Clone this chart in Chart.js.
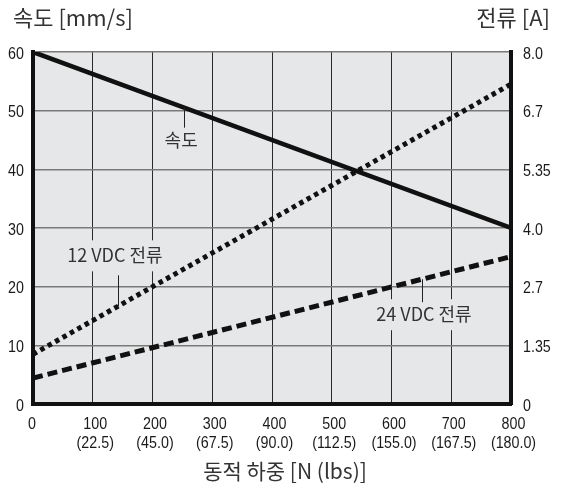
<!DOCTYPE html>
<html>
<head>
<meta charset="utf-8">
<script src="https://cdn.jsdelivr.net/npm/chart.js@4"></script>
<style>
  html, body { margin: 0; padding: 0; background: #fff; }
  #wrap { width: 564px; height: 490px; }
</style>
</head>
<body>
<div id="wrap"><canvas id="chart" width="564" height="490"></canvas></div>
<script>
// data
const loadTicksN = [0, 100, 200, 300, 400, 500, 600, 700, 800]
const loadTicksLbs = ['', '(22.5)', '(45.0)', '(67.5)', '(90.0)', '(112.5)', '(155.0)', '(167.5)', '(180.0)']
const speedTicks = [0, 10, 20, 30, 40, 50, 60]
const currentTickLabels = ['0', '1.35', '2.7', '4.0', '5.35', '6.7', '8.0']

const speedLoad = [0, 800]
const speedValues = [60, 30]          // mm/s
const cur12Load = [0, 800]
const cur12Values = [1.13, 7.27]      // A
const cur24Load = [0, 800]
const cur24Values = [0.59, 3.35]      // A

const plotBg = '#e6e7e8'
const tickFont = '17px "Liberation Sans", Arial, sans-serif'
const tickSquash = 0.84
const krFont = '"Noto Sans CJK KR", sans-serif'

function pts(xs, ys) {
    return xs.map((x, i) => ({ x: x, y: ys[i] }))
}

// label notes: which dataset, where on it, offset of the text
const notes = [
    { text: '속도', ds: 0, load: 253, dx: -3, dy: 32 },
    { text: '12 VDC 전류', ds: 1, load: 142, dx: -3, dy: -51 },
    { text: '24 VDC 전류', ds: 2, load: 651, dx: 2, dy: 35 }
]

function valueAt(ds, load) {
    const d = ds.data
    for (let i = 0; i < d.length - 1; i++) {
        if (load >= d[i].x && load <= d[i + 1].x) {
            const t = (load - d[i].x) / (d[i + 1].x - d[i].x)
            return d[i].y + t * (d[i + 1].y - d[i].y)
        }
    }
    return d[d.length - 1].y
}

function noteGeom(chart, n) {
    const ds = chart.data.datasets[n.ds]
    const ys = chart.scales[ds.yAxisID]
    const px = chart.scales.x.getPixelForValue(n.load)
    const py = ys.getPixelForValue(valueAt(ds, n.load))
    const ctx = chart.ctx
    ctx.font = '18px ' + krFont
    const w = ctx.measureText(n.text).width
    return { px, py, tx: px + n.dx, ty: py + n.dy, w }
}

// condensed tick text
function squashText(ctx, text, x, y, align) {
    ctx.save()
    ctx.translate(x, y)
    ctx.scale(tickSquash, 1)
    ctx.textAlign = align
    ctx.fillText(text, 0, 0)
    ctx.restore()
}

const plotPlugin = {
    id: 'plotPlugin',
    beforeDraw(chart) {
        const { ctx, chartArea: a } = chart
        ctx.save()
        ctx.fillStyle = plotBg
        ctx.fillRect(a.left, a.top, a.right - a.left, a.bottom - a.top)
        ctx.restore()
    },
    beforeDatasetsDraw(chart) {
        const ctx = chart.ctx
        ctx.save()
        ctx.fillStyle = plotBg
        notes.forEach(n => {
            const g = noteGeom(chart, n)
            ctx.fillRect(g.tx - g.w / 2 - 5, g.ty - 15, g.w + 10, 31)
        })
        ctx.restore()
    },
    afterDatasetsDraw(chart) {
        const ctx = chart.ctx
        const { x, y, y1 } = chart.scales
        ctx.save()
        notes.forEach(n => {
            const g = noteGeom(chart, n)
            ctx.strokeStyle = '#222'
            ctx.lineWidth = 1
            ctx.beginPath()
            const end = n.dy > 0 ? g.ty - 12 : g.ty + 20
            ctx.moveTo(Math.round(g.px) + 0.5, g.py)
            ctx.lineTo(Math.round(g.px) + 0.5, end)
            ctx.stroke()
            ctx.fillStyle = '#333'
            ctx.font = '18px ' + krFont
            ctx.textAlign = 'center'
            ctx.textBaseline = 'middle'
            ctx.fillText(n.text, g.tx, g.ty)
        })

        // tick labels
        ctx.fillStyle = '#1a1a1a'
        ctx.font = tickFont
        ctx.textBaseline = 'middle'
        loadTicksN.forEach((v, i) => {
            const px = x.getPixelForValue(v) + (v === 0 ? -1 : 2.5)
            squashText(ctx, String(v), px, 424, 'center')
            if (loadTicksLbs[i]) squashText(ctx, loadTicksLbs[i], px, 443.5, 'center')
        })
        speedTicks.forEach(v => {
            squashText(ctx, String(v), 24, y.getPixelForValue(v) + 2, 'right')
        })
        y1.ticks.forEach((t, i) => {
            squashText(ctx, currentTickLabels[i], 523, y1.getPixelForValue(t.value) + 2, 'left')
        })

        // axis titles
        ctx.fillStyle = '#333'
        ctx.font = '22px ' + krFont
        ctx.textBaseline = 'middle'
        ctx.textAlign = 'left'
        ctx.fillText('속도 [mm/s]', 13, 18)
        ctx.textAlign = 'right'
        ctx.fillText('전류 [A]', 550, 18)
        ctx.font = '21px ' + krFont
        ctx.textAlign = 'center'
        ctx.fillText('동적 하중 [N (lbs)]', 285, 471)
        ctx.restore()
    }
}

new Chart(document.getElementById('chart'), {
    type: 'line',
    data: {
        datasets: [
            {
                label: '속도',
                data: pts(speedLoad, speedValues),
                yAxisID: 'y',
                borderColor: '#111',
                borderWidth: 4.5,
                pointRadius: 0
            },
            {
                label: '12 VDC 전류',
                data: pts(cur12Load, cur12Values),
                yAxisID: 'y1',
                borderColor: '#111',
                borderWidth: 5,
                borderDash: [4.5, 4],
                pointRadius: 0
            },
            {
                label: '24 VDC 전류',
                data: pts(cur24Load, cur24Values),
                yAxisID: 'y1',
                borderColor: '#111',
                borderWidth: 5,
                borderDash: [10, 5],
                pointRadius: 0
            }
        ]
    },
    options: {
        responsive: false,
        animation: false,
        layout: { padding: { top: 52 } },
        plugins: {
            legend: { display: false },
            tooltip: { enabled: false }
        },
        scales: {
            x: {
                type: 'linear',
                min: 0,
                max: 800,
                afterBuildTicks: s => { s.ticks = loadTicksN.map(v => ({ value: v })) },
                afterFit: s => { s.height = 86 },
                grid: { color: '#2a2a2a', lineWidth: 1, drawTicks: false },
                border: { display: true, color: '#111', width: 4 },
                ticks: { display: false }
            },
            y: {
                position: 'left',
                min: 0,
                max: 60,
                afterBuildTicks: s => { s.ticks = speedTicks.map(v => ({ value: v })) },
                afterFit: s => { s.width = 33 },
                ticks: { display: false },
                grid: { color: '#7a7a7a', lineWidth: 1.5, drawTicks: false },
                border: { display: true, color: '#111', width: 4 }
            },
            y1: {
                position: 'right',
                min: 0,
                max: 8,
                afterBuildTicks: s => {
                    const n = currentTickLabels.length - 1
                    s.ticks = currentTickLabels.map((t, i) => ({ value: 8 * i / n }))
                },
                afterFit: s => { s.width = 53 },
                ticks: { display: false },
                grid: { display: false, drawTicks: false },
                border: { display: true, color: '#111', width: 4 }
            }
        }
    },
    plugins: [plotPlugin]
})
</script>
</body>
</html>
